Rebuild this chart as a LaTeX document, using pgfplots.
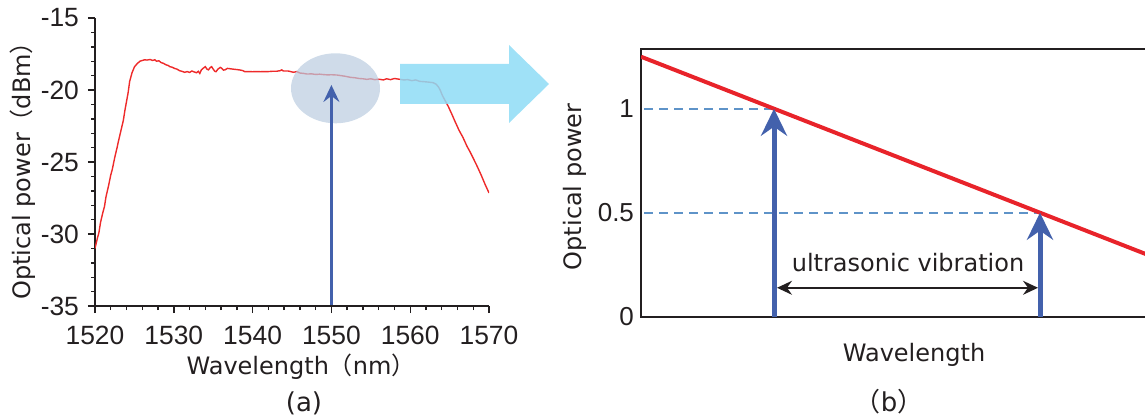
\documentclass[border=0pt]{standalone}
\usepackage{fontspec}
\setmainfont{DejaVu Sans}
\newfontfamily\tickfont{Liberation Sans}
\newfontfamily\cjk{Noto Sans CJK JP}
\usepackage{pgfplots}
\pgfplotsset{compat=1.18}
\usetikzlibrary{arrows.meta}
\definecolor{cred}{HTML}{EE2A2A}
\definecolor{lred}{HTML}{E8232A}
\definecolor{cblue}{HTML}{4361AC}
\definecolor{dblue}{HTML}{5E93C8}
\definecolor{ecol}{HTML}{BACCE0}
\definecolor{cyanA}{HTML}{8EDCF6}
\definecolor{txt}{HTML}{231F20}
\pgfplotstableread{
x y
1520.0 -31.0
1520.3 -30.3
1520.5 -29.9
1520.7 -29.2
1521.0 -28.5
1521.2 -28.1
1521.4 -27.4
1521.7 -26.7
1522.0 -25.9
1522.2 -25.5
1522.5 -24.7
1522.8 -24.0
1523.0 -23.5
1523.3 -22.8
1523.6 -22.1
1523.8 -21.4
1524.0 -20.8
1524.2 -20.2
1524.4 -19.4
1524.7 -18.8
1525.0 -18.4
1525.3 -18.2
1525.7 -18.0
1526.0 -17.95
1526.3 -17.9
1526.6 -17.92
1527.0 -17.88
1527.3 -17.95
1527.6 -17.9
1527.8 -18.0
1528.1 -17.97
1528.4 -18.1
1528.7 -18.15
1529.0 -18.25
1529.3 -18.3
1529.5 -18.38
1529.8 -18.42
1530.1 -18.5
1530.4 -18.55
1530.7 -18.65
1531.0 -18.7
1531.4 -18.77
1531.7 -18.72
1532.0 -18.78
1532.3 -18.68
1532.6 -18.75
1532.9 -18.8
1533.1 -18.7
1533.3 -18.85
1533.5 -18.6
1533.7 -18.5
1534.0 -18.38
1534.2 -18.55
1534.4 -18.6
1534.6 -18.45
1534.8 -18.38
1535.0 -18.55
1535.2 -18.7
1535.35 -18.73
1535.6 -18.55
1535.9 -18.43
1536.1 -18.5
1536.3 -18.62
1536.5 -18.6
1536.8 -18.5
1537.1 -18.52
1537.5 -18.55
1538.0 -18.58
1538.5 -18.62
1538.8 -18.66
1539.0 -18.73
1539.5 -18.72
1540.0 -18.73
1540.5 -18.72
1541.0 -18.73
1541.5 -18.72
1542.0 -18.72
1542.5 -18.7
1543.0 -18.7
1543.5 -18.66
1543.7 -18.6
1543.9 -18.68
1544.5 -18.68
1545.2 -18.77
1545.6 -18.72
1546.0 -18.82
1546.5 -18.85
1546.9 -18.89
1547.5 -18.88
1548.0 -18.92
1548.5 -18.9
1549.0 -18.93
1549.5 -18.95
1550.0 -18.94
1550.7 -18.96
1551.2 -19.0
1551.8 -19.05
1552.4 -19.12
1553.0 -19.15
1553.5 -19.2
1554.0 -19.22
1554.5 -19.26
1555.0 -19.22
1555.5 -19.28
1556.0 -19.25
1556.6 -19.3
1557.0 -19.22
1557.5 -19.28
1558.0 -19.2
1558.7 -19.26
1559.2 -19.3
1559.7 -19.28
1560.2 -19.35
1560.7 -19.3
1561.2 -19.4
1561.7 -19.42
1562.3 -19.45
1562.9 -19.49
1563.3 -19.6
1563.6 -19.8
1563.8 -20.0
1564.1 -20.4
1564.4 -20.7
1564.85 -21.16
1565.3 -21.7
1565.7 -22.2
1566.2 -22.8
1566.7 -23.3
1567.2 -23.9
1567.6 -24.3
1568.0 -24.74
1568.5 -25.3
1569.0 -25.9
1569.5 -26.55
1570.0 -27.15
}\spectrum
\begin{document}
\begin{tikzpicture}
\path[use as bounding box] (0,0) rectangle (572.5pt,-208.5pt);
% ---------- panel (a)
\begin{axis}[
  at={(47.5pt,-153pt)}, anchor=south west, scale only axis,
  width=197pt, height=144pt,
  xmin=1520, xmax=1570, ymin=-35, ymax=-15,
  axis x line*=bottom, axis y line*=left,
  axis line style={line width=0.75pt, -, txt},
  xtick={1520,1530,...,1570}, ytick={-35,-30,...,-15},
  minor x tick num=4, minor y tick num=4,
  tick align=outside, major tick length=3.5pt, minor tick length=2pt,
  tick style={txt, line width=0.7pt},
  /pgf/number format/assume math mode=true,
  /pgf/number format/1000 sep={},
  tick label style={font=\tickfont\fontsize{13.2}{15}\selectfont, text=txt},
  xticklabel style={yshift=-3pt},
  yticklabel style={xshift=-1pt},
  xlabel={Wavelength{\cjk（}nm{\cjk）}}, ylabel={Optical power{\cjk（}dBm{\cjk）}},
  label style={font=\fontsize{12}{14}\selectfont, text=txt},
  xlabel style={at={(axis description cs:0.523,-0.212)}, anchor=center},
  ylabel style={at={(axis description cs:-0.183,0.49)}, anchor=center},
]
\addplot[cred, line width=0.7pt] table[x=x,y=y] {\spectrum};
\end{axis}
\fill[ecol, fill opacity=0.7] (167.75pt,-44.15pt) ellipse [x radius=22.25pt, y radius=17.5pt];
\begin{axis}[
  at={(47.5pt,-153pt)}, anchor=south west, scale only axis,
  width=197pt, height=144pt,
  xmin=1520, xmax=1570, ymin=-35, ymax=-15, hide axis, clip=false]
\addplot[cblue, line width=1.2pt, -{Stealth[length=8.5pt,width=8pt,inset=3pt]}] coordinates {(1550,-34.9) (1550,-19.65)};
\end{axis}
% big cyan arrow
\fill[cyanA, fill opacity=0.85] (200pt,-32pt) -- (254.5pt,-32pt) -- (254.5pt,-22.5pt) -- (274.5pt,-42pt) -- (254.5pt,-61.5pt) -- (254.5pt,-52pt) -- (200pt,-52pt) -- cycle;
\node[font=\fontsize{13}{15}\selectfont, text=txt] at (152pt,-201.5pt) {(a)};
% ---------- panel (b)
\begin{axis}[
  at={(320.5pt,-158.35pt)}, anchor=south west, scale only axis,
  width=280pt, height=133.85pt,
  xmin=0, xmax=560, ymin=0, ymax=1.287,
  axis line style={line width=1pt, txt},
  xtick=\empty, ytick={0,0.5,1}, yticklabels={0,0.5,1},
  major tick length=0pt,
  yticklabel style={font=\tickfont\fontsize{13}{15}\selectfont, text=txt},
  xlabel={Wavelength}, ylabel={Optical power},
  label style={font=\fontsize{12}{14}\selectfont, text=txt},
  xlabel style={at={(axis description cs:0.4875,-0.143)}, anchor=center},
  ylabel style={at={(axis description cs:-0.118,0.485)}, anchor=center},
]
\addplot[dblue, line width=1pt, dash pattern=on 4.5pt off 3pt] coordinates {(3,1) (133,1)};
\addplot[dblue, line width=1pt, dash pattern=on 4.5pt off 3pt] coordinates {(3,0.5) (399,0.5)};
\addplot[lred, line width=2pt] coordinates {(0,1.25) (560,0.1974)};
\addplot[cblue, line width=2.5pt, -{Stealth[length=13.5pt,width=13pt,inset=4.5pt]}] coordinates {(133,0) (133,1)};
\addplot[cblue, line width=2.5pt, -{Stealth[length=13.5pt,width=13pt,inset=4.5pt]}] coordinates {(399,0) (399,0.5)};
\addplot[txt, line width=0.75pt, {Stealth[length=7.5pt,width=7pt,inset=2.5pt]}-{Stealth[length=7.5pt,width=7pt,inset=2.5pt]}] coordinates {(136,0.139) (397,0.139)};
\node[font=\fontsize{12}{14}\selectfont, text=txt] at (axis cs:267,0.258) {ultrasonic vibration};
\end{axis}
\node[font=\fontsize{13}{15}\selectfont, text=txt] at (444.5pt,-201pt) {{\cjk（}b{\cjk）}};
\end{tikzpicture}
\end{document}
